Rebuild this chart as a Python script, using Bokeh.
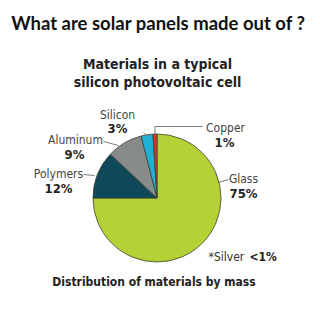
import math
from bokeh.plotting import figure
from bokeh.models import ColumnDataSource, Range1d
from bokeh.core.properties import value
from bokeh.embed import file_html
from bokeh.resources import INLINE

# ---- data ----
materials = ["Glass", "Polymers", "Aluminum", "Silicon", "Copper"]
shares = [75, 12, 9, 3, 1]
share_labels = ["75%", "12%", "9%", "3%", "1%"]
colors = ["#b4d235", "#0f4858", "#878c8b", "#1fb0d6", "#d8362b"]

title = "What are solar panels made out of ?"
subtitle1 = "Materials in a typical"
subtitle2 = "silicon photovoltaic cell"
footnote_a = "*Silver"
footnote_b = "<1%"
caption = "Distribution of materials by mass"

W = H = 320
def Y(ypx):
    return H - ypx

p = figure(width=W, height=H, x_range=Range1d(0, W), y_range=Range1d(0, H),
           output_backend="svg", toolbar_location=None, min_border=0)
p.axis.visible = False
p.grid.visible = False
p.outline_line_color = None
p.background_fill_color = "white"
p.border_fill_color = "white"

# ---- pie ----
total = float(sum(shares))
starts, ends = [], []
cum = 0.0
for v in shares:
    starts.append(math.pi / 2 - 2 * math.pi * cum / total)
    cum += v
    ends.append(math.pi / 2 - 2 * math.pi * cum / total)
cx, cy, r = 156.5, Y(197.5), 64
src = ColumnDataSource(dict(x=[cx] * len(shares), y=[cy] * len(shares),
                            start=starts, end=ends, color=colors))
p.wedge(x="x", y="y", radius=r, start_angle="start", end_angle="end",
        direction="clock", fill_color="color", line_color="#3d4030",
        line_width=0.8, source=src)

# ---- leader lines ----
lead = "#7a7a7a"
segs = [
    [(143, 132), (147.5, 136)],          # Silicon
    [(103, 141), (118, 145)],            # Aluminum
    [(83, 174), (94, 175)],              # Polymers
    [(154.5, 134), (154.5, 126), (202, 126)],  # Copper
    [(218, 182), (228, 179)],            # Glass
]
for s in segs:
    p.line([a for a, b in s], [Y(b) for a, b in s], line_color=lead, line_width=1)

# ---- labels ----
lab_font = value("'DejaVu Sans Condensed', Roboto")
name_pos = {"Glass": (243, 178), "Polymers": (58, 173), "Aluminum": (75, 139.5),
            "Silicon": (117, 114.5), "Copper": (225, 127)}
pct_pos = {"Glass": (243, 192.5), "Polymers": (58, 187.5), "Aluminum": (74, 154),
           "Silicon": (117, 128), "Copper": (224, 141.5)}
for m, pl in zip(materials, share_labels):
    nx, ny = name_pos[m]
    px, py = pct_pos[m]
    p.text(x=[nx], y=[Y(ny)], text=[m], text_font=lab_font, text_font_size="12px",
           text_color="#444444", text_align="center", text_baseline="middle")
    p.text(x=[px], y=[Y(py)], text=[pl], text_font=lab_font, text_font_size="13px",
           text_font_style="bold", text_color="#222222", text_align="center",
           text_baseline="middle")

# ---- titles ----
p.text(x=[158], y=[Y(22)], text=[title], text_font=value("Lato"), text_font_size="18.5px",
       text_font_style="bold", text_color="#111111", text_align="center", text_baseline="middle")
p.text(x=[157], y=[Y(63)], text=[subtitle1], text_font=lab_font, text_font_size="14px",
       text_font_style="bold", text_color="#222222", text_align="center", text_baseline="middle")
p.text(x=[157], y=[Y(81)], text=[subtitle2], text_font=lab_font, text_font_size="14px",
       text_font_style="bold", text_color="#222222", text_align="center", text_baseline="middle")

p.text(x=[208], y=[Y(256)], text=[footnote_a], text_font=lab_font, text_font_size="12px",
       text_color="#333333", text_align="left", text_baseline="middle")
p.text(x=[249], y=[Y(256)], text=[footnote_b], text_font=lab_font, text_font_size="12px",
       text_font_style="bold", text_color="#222222", text_align="left", text_baseline="middle")
p.text(x=[153.5], y=[Y(281)], text=[caption], text_font=lab_font, text_font_size="12px",
       text_font_style="bold", text_color="#222222", text_align="center", text_baseline="middle")

open("out.html", "w").write(file_html(p, INLINE))
